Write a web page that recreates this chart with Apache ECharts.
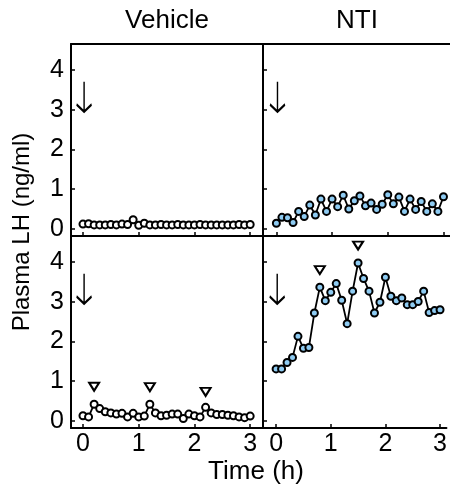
<!DOCTYPE html>
<html lang="en">
<head>
	<meta charset="UTF-8">
	<title>Plasma LH</title>
	<style>
		html, body { margin: 0; padding: 0; background: #fff; }
		#main { width: 450px; height: 486px; }
	</style>
</head>
<body>
	<div id="main"></div>
<script type="text/javascript" src="https://cdn.jsdelivr.net/npm/echarts@6/dist/echarts.min.js"></script>
<script type="text/javascript">
		// sampling times (h), one sample every 6 min
		var times = [0, 0.1, 0.2, 0.3, 0.4, 0.5, 0.6, 0.7, 0.8, 0.9, 1.0, 1.1, 1.2, 1.3, 1.4, 1.5,
			1.6, 1.7, 1.8, 1.9, 2.0, 2.1, 2.2, 2.3, 2.4, 2.5, 2.6, 2.7, 2.8, 2.9, 3.0];

		// plasma LH (ng/ml)
		var vehicleTop = [0.12, 0.13, 0.10, 0.10, 0.10, 0.11, 0.10, 0.12, 0.11, 0.23, 0.09, 0.14, 0.10, 0.10, 0.11, 0.10,
			0.10, 0.11, 0.10, 0.10, 0.10, 0.11, 0.10, 0.10, 0.10, 0.10, 0.10, 0.10, 0.11, 0.10, 0.11];
		var ntiTop = [0.14, 0.29, 0.28, 0.16, 0.44, 0.31, 0.60, 0.35, 0.75, 0.44, 0.75, 0.56, 0.85, 0.50, 0.71, 0.83,
			0.58, 0.65, 0.49, 0.62, 0.86, 0.63, 0.80, 0.44, 0.75, 0.49, 0.69, 0.44, 0.63, 0.44, 0.81];
		var vehicleBottom = [0.13, 0.10, 0.42, 0.31, 0.23, 0.20, 0.17, 0.19, 0.10, 0.19, 0.10, 0.12, 0.42, 0.20, 0.13, 0.14,
			0.17, 0.17, 0.06, 0.17, 0.13, 0.10, 0.34, 0.20, 0.16, 0.16, 0.14, 0.13, 0.10, 0.08, 0.12];
		var ntiBottom = [1.31, 1.31, 1.47, 1.60, 2.13, 1.83, 1.85, 2.72, 3.37, 3.03, 3.24, 3.46, 3.04, 2.45, 3.27, 3.98,
			3.59, 3.27, 2.72, 2.99, 3.62, 3.14, 3.03, 3.10, 2.93, 2.93, 3.01, 3.27, 2.73, 2.78, 2.80];

		// pulse markers (time, height) and injection arrow
		var vehiclePeaks = [[0.2, 0.86], [1.2, 0.85], [2.2, 0.73]];
		var ntiPeaks = [[0.8, 3.80], [1.5, 4.42]];
		var arrowPos = [0.02, 3.33];

		var xTicks = [0, 1, 2, 3];
		var yTicks = [0, 1, 2, 3, 4];
		var titles = ['Vehicle', 'NTI'];

		var FONT = '"Liberation Sans", Arial, sans-serif';
		var NTI_BLUE = '#8ecbf2';

		var myChart = echarts.init(document.getElementById('main'));

		function pairs(vals) {
			var out = [];
			for (var i = 0; i < times.length; i++) {
				out.push([times[i], vals[i]]);
			}
			return out;
		}

		function bottomAxis(g, min, max, labels) {
			return {
				type: 'value', gridIndex: g, min: min, max: max,
				axisLine: { onZero: false, lineStyle: { color: '#000', width: 2 } },
				axisTick: { inside: true, length: 4, customValues: xTicks, lineStyle: { color: '#000', width: 1.5 } },
				axisLabel: { show: labels, customValues: xTicks, margin: 4, color: '#000', fontSize: 25, fontFamily: FONT },
				splitLine: { show: false }
			};
		}

		function topAxis(g, min, max) {
			return {
				type: 'value', gridIndex: g, position: 'top', min: min, max: max,
				axisLine: { onZero: false, lineStyle: { color: '#000', width: 2 } },
				axisTick: { show: false },
				axisLabel: { show: false },
				splitLine: { show: false }
			};
		}

		function leftAxis(g, labels) {
			return {
				type: 'value', gridIndex: g, min: -0.18, max: 4.66,
				axisLine: { onZero: false, lineStyle: { color: '#000', width: 2 } },
				axisTick: { inside: true, length: 4, customValues: yTicks, lineStyle: { color: '#000', width: 1.5 } },
				axisLabel: { show: labels, customValues: yTicks, margin: 7, color: '#000', fontSize: 25, fontFamily: FONT },
				splitLine: { show: false }
			};
		}

		function dataSeries(g, vals, fill) {
			return {
				type: 'line', xAxisIndex: g, yAxisIndex: g,
				data: pairs(vals),
				symbol: 'circle', symbolSize: 7, showAllSymbol: true,
				lineStyle: { color: '#000', width: 1.8 },
				itemStyle: { color: fill, borderColor: '#000', borderWidth: 2 },
				z: 3
			};
		}

		function arrowSeries(g) {
			return {
				type: 'scatter', xAxisIndex: g, yAxisIndex: g,
				data: [arrowPos],
				symbol: 'path://M8,0 L8,29 M1,22 L8,29 L15,22',
				symbolSize: [15, 30],
				itemStyle: { color: 'none', borderColor: '#000', borderWidth: 2, opacity: 1 }
			};
		}

		function peakSeries(g, peaks) {
			return {
				type: 'scatter', xAxisIndex: g, yAxisIndex: g,
				data: peaks,
				symbol: 'triangle', symbolRotate: 180, symbolSize: [10, 8],
				itemStyle: { color: '#fff', borderColor: '#000', borderWidth: 2, opacity: 1 }
			};
		}

		var option = {
			animation: false,
			backgroundColor: '#fff',
			grid: [
				{ left: 71, top: 44, width: 192, height: 192 },
				{ left: 263, top: 44, width: 187, height: 192 },
				{ left: 71, top: 236, width: 192, height: 192 },
				{ left: 263, top: 236, width: 187, height: 192 }
			],
			xAxis: [
				bottomAxis(0, -0.215, 3.23, false),
				bottomAxis(1, -0.24, 3.117, false),
				bottomAxis(2, -0.215, 3.23, true),
				bottomAxis(3, -0.24, 3.117, true),
				topAxis(0, -0.215, 3.23),
				topAxis(1, -0.24, 3.117)
			],
			yAxis: [
				leftAxis(0, true),
				leftAxis(1, false),
				leftAxis(2, true),
				leftAxis(3, false)
			],
			series: [
				dataSeries(0, vehicleTop, '#fff'),
				dataSeries(1, ntiTop, NTI_BLUE),
				dataSeries(2, vehicleBottom, '#fff'),
				dataSeries(3, ntiBottom, NTI_BLUE),
				arrowSeries(0), arrowSeries(1), arrowSeries(2), arrowSeries(3),
				peakSeries(2, vehiclePeaks),
				peakSeries(3, ntiPeaks)
			],
			graphic: [
				{ type: 'text', x: 167, y: 21, style: { text: titles[0], font: '26px ' + FONT, fill: '#000', align: 'center', verticalAlign: 'middle' } },
				{ type: 'text', x: 357, y: 21, style: { text: titles[1], font: '26px ' + FONT, fill: '#000', align: 'center', verticalAlign: 'middle' } },
				{ type: 'text', x: 256, y: 472, style: { text: 'Time (h)', font: '26px ' + FONT, fill: '#000', align: 'center', verticalAlign: 'middle' } },
				{ type: 'text', x: 22, y: 232, rotation: Math.PI / 2, style: { text: 'Plasma LH (ng/ml)', font: '24px ' + FONT, fill: '#000', align: 'center', verticalAlign: 'middle' } }
			]
		};

		myChart.setOption(option);
</script>
</body>
</html>
